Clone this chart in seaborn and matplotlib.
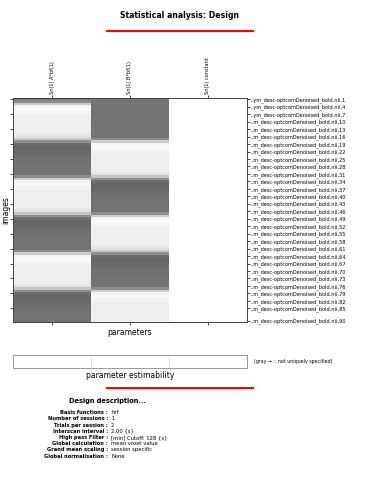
import numpy as np
import pandas as pd

import matplotlib
matplotlib.use("Agg")
import matplotlib.pyplot as plt
from matplotlib.lines import Line2D
import seaborn as sns

# Nombres de las columnas de la matriz de diseño
parametros = ["Sn(1) A*bf(1)", "Sn(1) B*bf(1)", "Sn(1) constant"]

# Intensidad de gris por escaneo (90 escaneos)
col_a = [
    0.45, 0.55, 0.80, 0.95, 0.97, 0.96, 0.95, 0.93, 0.93, 0.93, 0.93, 0.93, 0.93, 0.93, 0.92,
    0.89, 0.78, 0.56, 0.43, 0.40, 0.40, 0.41, 0.42, 0.43, 0.44, 0.44, 0.45, 0.45, 0.45, 0.45,
    0.45, 0.55, 0.80, 0.95, 0.97, 0.96, 0.95, 0.93, 0.93, 0.93, 0.93, 0.93, 0.93, 0.93, 0.92,
    0.89, 0.78, 0.56, 0.43, 0.40, 0.40, 0.41, 0.42, 0.43, 0.44, 0.44, 0.45, 0.45, 0.45, 0.45,
    0.45, 0.55, 0.80, 0.95, 0.97, 0.96, 0.95, 0.93, 0.93, 0.93, 0.93, 0.93, 0.93, 0.93, 0.92,
    0.89, 0.78, 0.56, 0.43, 0.40, 0.40, 0.41, 0.42, 0.43, 0.44, 0.44, 0.45, 0.45, 0.45, 0.45,
]
col_b = [
    0.46, 0.46, 0.46, 0.46, 0.46, 0.46, 0.46, 0.46, 0.46, 0.46, 0.46, 0.46, 0.46, 0.46, 0.46,
    0.45, 0.55, 0.80, 0.95, 0.97, 0.96, 0.95, 0.93, 0.93, 0.93, 0.93, 0.93, 0.93, 0.93, 0.92,
    0.89, 0.78, 0.56, 0.43, 0.40, 0.40, 0.41, 0.42, 0.43, 0.44, 0.44, 0.45, 0.45, 0.45, 0.45,
    0.45, 0.55, 0.80, 0.95, 0.97, 0.96, 0.95, 0.93, 0.93, 0.93, 0.93, 0.93, 0.93, 0.93, 0.92,
    0.89, 0.78, 0.56, 0.43, 0.40, 0.40, 0.41, 0.42, 0.43, 0.44, 0.44, 0.45, 0.45, 0.45, 0.45,
    0.45, 0.55, 0.80, 0.95, 0.97, 0.96, 0.95, 0.93, 0.93, 0.93, 0.93, 0.93, 0.93, 0.93, 0.93,
]
col_const = [1.0] * 90

# Estimabilidad de cada parámetro (1 = estimable, blanco)
estimabilidad = [1.0, 1.0, 1.0]

# Etiquetas de las imágenes (lado derecho)
imagenes_num = [1, 4, 7, 10, 13, 16, 19, 22, 25, 28, 31, 34, 37, 40, 43, 46, 49, 52, 55, 58,
                61, 64, 67, 70, 73, 76, 79, 82, 85, 90]
imagenes_txt = [("..ym_desc-optcomDenoised_bold.nii,%d" if n < 10 else
                 "..m_desc-optcomDenoised_bold.nii,%d") % n for n in imagenes_num]

# Descripción del diseño
desc_claves = ["Basis functions", "Number of sessions", "Trials per session", "Interscan interval",
               "High pass Filter", "Global calculation", "Grand mean scaling", "Global normalisation"]
desc_valores = ["hrf", "1", "2", "2.00 {s}", "[min] Cutoff: 128 {s}", "mean voxel value",
                "session specific", "None"]

W, H = 365, 499
fig = plt.figure(figsize=(W / 100, H / 100), dpi=100)
fig.patch.set_facecolor("white")

def fx(px):
    return px / W

def fy(py):
    return 1 - py / H

# Título y líneas rojas
fig.text(fx(180), fy(15), "Statistical analysis: Design", ha="center", va="center",
         fontsize=5.6, fontweight="bold")
for y in (31, 388):
    fig.add_artist(Line2D([fx(107), fx(253)], [fy(y), fy(y)], color="red", lw=1.5,
                          transform=fig.transFigure))

# Matriz de diseño
df = pd.DataFrame({parametros[0]: col_a, parametros[1]: col_b, parametros[2]: col_const})
ax = fig.add_axes([fx(13.3), fy(322), fx(246.7) - fx(13.3), fy(98) - fy(322)])
sns.heatmap(df, ax=ax, cmap="gray", vmin=0, vmax=1, cbar=False,
            linewidths=0, edgecolor="face", antialiased=False)
for s in ax.spines.values():
    s.set_visible(True)
    s.set_linewidth(0.6)
    s.set_color("#444444")

ax.set_xticks(np.arange(len(parametros)) + 0.5)
ax.set_xticklabels(parametros, rotation=90, fontsize=3.6)
ax.xaxis.tick_top()
ax.tick_params(axis="x", top=True, bottom=True, labeltop=True, labelbottom=False,
               length=2, width=0.5, pad=1)
ax.set_yticks(np.arange(0, len(col_a), 6) + 0.5)
ax.set_yticklabels([])
ax.tick_params(axis="y", left=True, length=2, width=0.5)
ax.set_xlabel("parameters", fontsize=5.5)
ax.xaxis.set_label_position("bottom")
ax.xaxis.set_label_coords(0.5, -0.028)
ax.set_ylabel("images", fontsize=5.5)
ax.yaxis.set_label_coords(-0.012, 0.5)

ax2 = ax.twinx()
ax2.set_ylim(ax.get_ylim())
ax2.set_yticks(np.array(imagenes_num) - 0.5)
ax2.set_yticklabels(imagenes_txt, fontsize=3.6)
ax2.tick_params(axis="y", length=2, width=0.5, pad=1)
for s in ax2.spines.values():
    s.set_linewidth(0.6)
    s.set_color("#444444")

# Estimabilidad de parámetros
ax_e = fig.add_axes([fx(13.3), fy(368), fx(246.7) - fx(13.3), fy(355) - fy(368)])
sns.heatmap(pd.DataFrame([estimabilidad]), ax=ax_e, cmap="gray", vmin=0, vmax=1, cbar=False)
for s in ax_e.spines.values():
    s.set_visible(True)
    s.set_linewidth(0.6)
    s.set_color("#888888")
for i in range(1, len(estimabilidad)):
    ax_e.axvline(i, color="#888888", lw=0.5, ls=":")
ax_e.set_xticks([])
ax_e.set_yticks([])
fig.text(fx(254), fy(362), "(gray \u2192 \u2234 not uniquely specified)", fontsize=3.4,
         ha="left", va="center")
fig.text(fx(130), fy(376), "parameter estimability", fontsize=5.5, ha="center", va="center")

# Descripción del diseño
fig.text(fx(107.5), fy(401), "Design description...", fontsize=4.8, fontweight="bold",
         ha="center", va="center")
for i, (k, v) in enumerate(zip(desc_claves, desc_valores)):
    y = fy(412.7 + i * 6.19)
    fig.text(fx(108), y, k + " :", fontsize=3.7, fontweight="bold", ha="right", va="center")
    fig.text(fx(111), y, v, fontsize=3.8, ha="left", va="center")

fig.savefig("out.png", dpi=100)
